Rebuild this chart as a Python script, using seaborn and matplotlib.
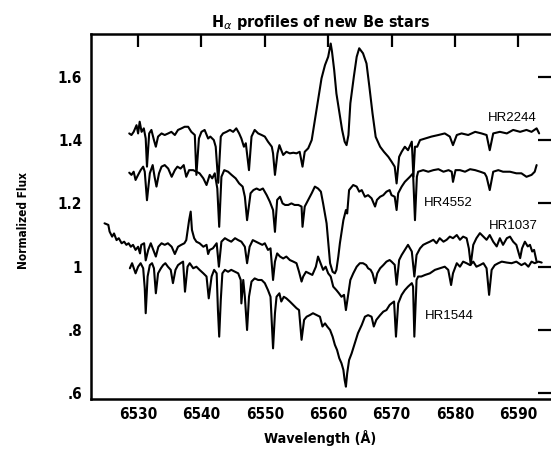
import numpy as np
import pandas as pd
import matplotlib
matplotlib.use("Agg")
import matplotlib.pyplot as plt
import seaborn as sns

# ---------------- data ----------------
hr2244_wl = [6528.6, 6528.95, 6529.3, 6529.75, 6530.0, 6530.25, 6530.55, 6530.9, 6531.2, 6531.4,
             6531.75, 6532.1, 6532.5, 6532.8, 6533.15, 6533.7, 6534.2, 6534.75, 6535.25, 6535.8,
             6536.3, 6536.85, 6537.35, 6537.9, 6538.4, 6538.95, 6539.2, 6539.6, 6540.0, 6540.5,
             6541.05, 6541.4, 6541.95, 6542.25, 6542.65, 6543.05, 6543.4, 6543.95, 6544.5, 6545.0,
             6545.5, 6545.95, 6546.3, 6546.7, 6547.0, 6547.5, 6547.9, 6548.4, 6548.95, 6549.5,
             6550.0, 6550.5, 6551.1, 6551.3, 6551.6, 6552.0, 6552.3, 6552.6, 6552.9, 6553.4,
             6553.95, 6554.5, 6555.0, 6555.5, 6555.95, 6556.3, 6556.85, 6557.4, 6557.9, 6558.4,
             6558.95, 6559.5, 6560.0, 6560.4, 6560.6, 6560.95, 6561.3, 6561.7, 6562.2, 6562.6,
             6562.9, 6563.2, 6563.5, 6564.05, 6564.5, 6564.9, 6565.5, 6566.05, 6566.5, 6567.0,
             6567.5, 6568.2, 6568.8, 6569.5, 6570.0, 6570.5, 6570.8, 6571.2, 6571.6, 6572.1,
             6572.6, 6573.2, 6573.45, 6573.7, 6574.05, 6574.5, 6575.3, 6576.3, 6577.4, 6578.4,
             6579.2, 6579.7, 6580.3, 6581.05, 6582.1, 6583.2, 6584.2, 6585.0, 6585.5, 6586.05,
             6587.1, 6588.2, 6589.2, 6590.3, 6591.3, 6592.1, 6592.9, 6593.3]
hr2244_fx = [1.421, 1.416, 1.426, 1.447, 1.421, 1.458, 1.426, 1.437, 1.405, 1.316,
             1.421, 1.432, 1.400, 1.379, 1.411, 1.421, 1.416, 1.421, 1.426, 1.416,
             1.432, 1.437, 1.442, 1.442, 1.426, 1.416, 1.290, 1.405, 1.426, 1.432,
             1.405, 1.411, 1.400, 1.379, 1.265, 1.411, 1.421, 1.426, 1.432, 1.426,
             1.437, 1.421, 1.405, 1.379, 1.390, 1.305, 1.411, 1.432, 1.421, 1.416,
             1.411, 1.395, 1.379, 1.358, 1.290, 1.358, 1.384, 1.368, 1.353, 1.363,
             1.358, 1.360, 1.358, 1.363, 1.316, 1.363, 1.374, 1.400, 1.463, 1.526,
             1.595, 1.637, 1.663, 1.705, 1.680, 1.621, 1.547, 1.495, 1.432, 1.395,
             1.384, 1.416, 1.516, 1.600, 1.663, 1.690, 1.674, 1.642, 1.569, 1.484,
             1.410, 1.379, 1.363, 1.347, 1.332, 1.316, 1.263, 1.347, 1.363, 1.379,
             1.368, 1.395, 1.284, 1.379, 1.379, 1.400, 1.405, 1.411, 1.416, 1.421,
             1.411, 1.384, 1.416, 1.421, 1.416, 1.426, 1.421, 1.416, 1.368, 1.421,
             1.426, 1.421, 1.432, 1.426, 1.432, 1.426, 1.437, 1.421]

hr4552_wl = [6528.6, 6528.95, 6529.3, 6529.6, 6530.0, 6530.4, 6530.8, 6531.05, 6531.4, 6531.85,
             6532.3, 6532.6, 6532.9, 6533.3, 6533.7, 6534.2, 6534.75, 6535.3, 6535.8, 6536.2,
             6536.7, 6537.2, 6537.6, 6538.05, 6538.7, 6539.2, 6539.7, 6540.3, 6540.8, 6541.3,
             6541.7, 6542.1, 6542.5, 6542.8, 6543.15, 6543.6, 6544.2, 6544.75, 6545.4, 6545.95,
             6546.5, 6546.85, 6547.2, 6547.75, 6548.2, 6548.7, 6549.2, 6549.7, 6550.3, 6550.8,
             6551.3, 6551.6, 6551.95, 6552.4, 6552.8, 6553.2, 6553.7, 6554.2, 6554.7, 6555.3,
             6555.8, 6555.95, 6556.3, 6556.85, 6557.4, 6557.9, 6558.4, 6558.85, 6559.2, 6559.75,
             6560.3, 6560.7, 6561.06, 6561.3, 6561.6, 6561.85, 6562.4, 6562.8, 6563.0, 6563.3,
             6563.95, 6564.5, 6564.9, 6565.3, 6565.8, 6566.3, 6566.85, 6567.4, 6567.7, 6568.2,
             6568.7, 6569.2, 6569.7, 6570.0, 6570.5, 6570.8, 6571.05, 6571.6, 6572.1, 6572.9,
             6573.4, 6573.7, 6574.0, 6574.2, 6575.0, 6575.8, 6576.6, 6577.4, 6578.2, 6579.0,
             6579.5, 6579.7, 6580.1, 6580.8, 6581.6, 6582.4, 6583.2, 6584.0, 6584.7, 6585.0,
             6585.5, 6586.05, 6586.85, 6587.6, 6588.7, 6589.7, 6590.5, 6591.3, 6592.1, 6592.6,
             6592.9]
hr4552_fx = [1.297, 1.290, 1.300, 1.274, 1.290, 1.305, 1.316, 1.300, 1.210, 1.295,
             1.321, 1.284, 1.253, 1.295, 1.316, 1.321, 1.310, 1.284, 1.305, 1.316,
             1.310, 1.321, 1.284, 1.305, 1.305, 1.300, 1.295, 1.279, 1.258, 1.290,
             1.279, 1.295, 1.247, 1.126, 1.284, 1.305, 1.300, 1.290, 1.279, 1.263,
             1.253, 1.221, 1.147, 1.232, 1.242, 1.247, 1.242, 1.247, 1.226, 1.205,
             1.179, 1.110, 1.211, 1.221, 1.200, 1.195, 1.195, 1.200, 1.195, 1.195,
             1.190, 1.126, 1.190, 1.211, 1.232, 1.253, 1.247, 1.237, 1.200, 1.137,
             1.011, 0.984, 0.979, 0.990, 1.032, 1.074, 1.147, 1.179, 1.168, 1.242,
             1.258, 1.253, 1.237, 1.242, 1.221, 1.226, 1.216, 1.190, 1.211, 1.221,
             1.226, 1.237, 1.242, 1.226, 1.221, 1.179, 1.232, 1.253, 1.268, 1.284,
             1.295, 1.147, 1.284, 1.300, 1.305, 1.300, 1.305, 1.308, 1.300, 1.305,
             1.300, 1.268, 1.305, 1.305, 1.300, 1.308, 1.305, 1.300, 1.295, 1.284,
             1.242, 1.300, 1.305, 1.300, 1.300, 1.295, 1.295, 1.284, 1.290, 1.300,
             1.321]

hr1037_wl = [6524.7, 6525.3, 6525.5, 6525.9, 6526.2, 6526.6, 6526.95, 6527.4, 6527.8, 6528.15,
             6528.5, 6528.85, 6529.2, 6529.6, 6530.0, 6530.3, 6530.5, 6530.95, 6531.2, 6531.6,
             6532.0, 6532.4, 6532.8, 6533.2, 6533.7, 6534.2, 6534.7, 6535.3, 6535.8, 6536.3,
             6536.8, 6537.3, 6537.6, 6538.05, 6538.3, 6538.5, 6538.85, 6539.2, 6539.7, 6540.3,
             6540.8, 6541.05, 6541.3, 6541.8, 6542.4, 6542.75, 6543.15, 6543.7, 6544.2, 6544.7,
             6545.3, 6545.8, 6546.3, 6546.85, 6547.2, 6547.6, 6548.1, 6548.6, 6549.1, 6549.6,
             6550.0, 6550.5, 6550.9, 6551.3, 6551.6, 6551.95, 6552.4, 6552.9, 6553.4, 6553.95,
             6554.5, 6555.0, 6555.4, 6555.8, 6556.06, 6556.5, 6557.0, 6557.5, 6558.06, 6558.4,
             6558.8, 6559.2, 6559.6, 6560.0, 6560.4, 6560.8, 6561.3, 6561.7, 6562.1, 6562.5,
             6562.8, 6563.2, 6563.5, 6563.96, 6564.5, 6565.0, 6565.5, 6566.0, 6566.3, 6566.7,
             6567.0, 6567.4, 6567.75, 6568.2, 6568.7, 6569.2, 6569.7, 6570.0, 6570.5, 6570.8,
             6571.2, 6571.6, 6572.1, 6572.6, 6573.2, 6573.6, 6573.95, 6574.5, 6575.0, 6575.5,
             6576.05, 6576.6, 6577.1, 6577.6, 6578.2, 6578.7, 6579.2, 6579.7, 6580.3, 6580.8,
             6581.3, 6581.85, 6582.2, 6582.5, 6582.9, 6583.4, 6583.95, 6584.5, 6585.0, 6585.5,
             6586.05, 6586.6, 6587.1, 6587.6, 6588.2, 6588.7, 6589.2, 6589.7, 6590.3, 6590.6,
             6591.05, 6591.5, 6591.85, 6592.2, 6592.5, 6592.9]
hr1037_fx = [1.137, 1.132, 1.111, 1.095, 1.105, 1.084, 1.090, 1.074, 1.079, 1.069,
             1.074, 1.063, 1.069, 1.053, 1.063, 1.042, 1.069, 1.074, 1.020, 1.053,
             1.074, 1.053, 1.032, 1.063, 1.074, 1.069, 1.074, 1.063, 1.040, 1.063,
             1.069, 1.074, 1.084, 1.147, 1.174, 1.116, 1.090, 1.079, 1.074, 1.063,
             1.069, 1.040, 1.053, 1.058, 1.074, 1.000, 1.079, 1.090, 1.084, 1.079,
             1.090, 1.084, 1.079, 1.063, 1.011, 1.063, 1.084, 1.079, 1.074, 1.069,
             1.074, 1.053, 1.058, 0.958, 1.016, 1.042, 1.032, 1.026, 1.032, 1.021,
             1.016, 1.011, 0.984, 0.953, 0.969, 0.984, 0.979, 0.974, 1.000, 1.032,
             1.011, 0.990, 1.000, 0.979, 0.969, 0.937, 0.926, 0.916, 0.905, 0.911,
             0.863, 0.916, 0.958, 0.979, 1.000, 1.011, 1.011, 1.005, 0.995, 0.990,
             0.979, 0.948, 0.979, 0.995, 1.005, 1.016, 1.021, 1.016, 1.006, 0.943,
             1.021, 1.037, 1.053, 1.069, 1.048, 0.969, 1.037, 1.058, 1.069, 1.074,
             1.079, 1.085, 1.074, 1.090, 1.079, 1.085, 1.095, 1.090, 1.100, 1.085,
             1.095, 1.090, 1.058, 1.006, 1.069, 1.090, 1.106, 1.095, 1.085, 1.100,
             1.079, 1.064, 1.090, 1.069, 1.090, 1.095, 1.079, 1.069, 1.027, 1.058,
             1.079, 1.064, 1.069, 1.048, 1.053, 1.016]

hr1544_wl = [6528.7, 6529.05, 6529.4, 6529.6, 6530.0, 6530.4, 6530.8, 6531.05, 6531.2, 6531.5,
             6531.85, 6532.2, 6532.5, 6532.8, 6533.15, 6533.6, 6533.95, 6534.3, 6534.7, 6535.15,
             6535.5, 6535.9, 6536.3, 6536.7, 6537.1, 6537.4, 6537.8, 6538.15, 6538.7, 6539.2,
             6539.7, 6540.3, 6540.8, 6541.15, 6541.6, 6542.0, 6542.4, 6542.6, 6542.8, 6543.05,
             6543.3, 6543.7, 6544.2, 6544.7, 6545.3, 6545.8, 6546.2, 6546.3, 6546.6, 6546.85,
             6547.2, 6547.5, 6547.9, 6548.4, 6548.95, 6549.5, 6550.0, 6550.5, 6550.9, 6551.3,
             6551.6, 6551.85, 6552.3, 6552.6, 6553.0, 6553.4, 6553.95, 6554.5, 6555.0, 6555.4,
             6555.8, 6556.2, 6556.6, 6557.1, 6557.6, 6558.2, 6558.7, 6559.1, 6559.5, 6559.85,
             6560.3, 6560.7, 6561.06, 6561.4, 6561.75, 6562.1, 6562.4, 6562.6, 6562.8, 6563.0,
             6563.3, 6563.7, 6564.2, 6564.7, 6565.3, 6565.8, 6566.3, 6566.85, 6567.2, 6567.6,
             6568.2, 6568.7, 6569.2, 6569.7, 6570.0, 6570.4, 6570.7, 6571.05, 6571.6, 6572.1,
             6572.6, 6573.2, 6573.4, 6573.6, 6573.95, 6574.2, 6574.7, 6575.3, 6576.05, 6576.85,
             6577.6, 6578.4, 6578.95, 6579.4, 6579.7, 6580.3, 6580.8, 6581.3, 6581.85, 6582.4,
             6582.9, 6583.4, 6583.95, 6584.5, 6585.0, 6585.4, 6585.8, 6586.3, 6586.85, 6587.4,
             6588.2, 6588.95, 6589.7, 6590.5, 6591.05, 6591.6, 6592.1, 6592.6, 6593.2, 6593.7]
hr1544_fx = [0.995, 1.011, 0.990, 0.979, 1.000, 1.011, 0.995, 0.932, 0.853, 0.969,
             1.005, 1.011, 0.995, 0.916, 0.979, 0.995, 1.005, 1.011, 1.000, 0.990,
             0.948, 0.990, 1.005, 1.011, 1.016, 0.921, 1.000, 1.011, 0.995, 1.000,
             0.990, 0.979, 0.969, 0.900, 0.969, 0.990, 0.979, 0.863, 0.779, 0.895,
             0.979, 0.990, 0.984, 0.990, 0.984, 0.979, 0.958, 0.884, 0.958, 0.905,
             0.800, 0.905, 0.953, 0.963, 0.958, 0.958, 0.948, 0.926, 0.905, 0.742,
             0.853, 0.905, 0.916, 0.890, 0.905, 0.900, 0.890, 0.879, 0.869, 0.863,
             0.769, 0.832, 0.842, 0.847, 0.853, 0.847, 0.842, 0.811, 0.821, 0.811,
             0.800, 0.779, 0.753, 0.737, 0.711, 0.695, 0.674, 0.642, 0.621, 0.663,
             0.705, 0.726, 0.758, 0.790, 0.816, 0.842, 0.847, 0.842, 0.811, 0.832,
             0.847, 0.858, 0.863, 0.879, 0.884, 0.890, 0.779, 0.884, 0.911, 0.926,
             0.937, 0.948, 0.937, 0.779, 0.958, 0.969, 0.969, 0.974, 0.979, 0.990,
             0.995, 1.000, 0.990, 0.942, 0.979, 1.011, 1.000, 1.016, 1.011, 1.005,
             1.016, 1.000, 1.005, 1.011, 0.995, 0.911, 0.990, 1.005, 1.011, 1.016,
             1.013, 1.011, 1.016, 1.005, 1.011, 1.000, 1.016, 1.011, 1.016, 1.013]

star_names = ["HR2244", "HR4552", "HR1037", "HR1544"]
label_wl = [6589.0, 6578.9, 6589.3, 6579.1]
label_fx = [1.470, 1.200, 1.128, 0.844]

x_ticks = [6530, 6540, 6550, 6560, 6570, 6580, 6590]
y_ticks = [0.6, 0.8, 1.0, 1.2, 1.4, 1.6]
y_ticklabels = [".6", ".8", "1", "1.2", "1.4", "1.6"]

# ---------------- build table ----------------
frames = []
for name, wl, fx in zip(star_names,
                        [hr2244_wl, hr4552_wl, hr1037_wl, hr1544_wl],
                        [hr2244_fx, hr4552_fx, hr1037_fx, hr1544_fx]):
    frames.append(pd.DataFrame({"star": name, "wl": wl, "flux": fx}))
df = pd.concat(frames, ignore_index=True)

# ---------------- style ----------------
sns.set_style("white")
plt.rcParams["font.family"] = ["DejaVu Sans"]
plt.rcParams["text.color"] = "black"
plt.rcParams["axes.labelcolor"] = "black"
plt.rcParams["xtick.color"] = "black"
plt.rcParams["ytick.color"] = "black"

bold = dict(family="DejaVu Sans", weight="bold", stretch="condensed", color="black")

fig = plt.figure(figsize=(5.51, 4.50), dpi=100)
ax = fig.add_axes([0.1644, 0.1133, 0.8356, 0.8111])

sns.lineplot(data=df, x="wl", y="flux", units="star", estimator=None,
             sort=False, color="black", linewidth=1.5, ax=ax, legend=False)

ax.set_xlim(6522.5, 6595.17)
ax.set_ylim(0.582, 1.735)

ax.set_xticks(x_ticks)
ax.set_xticklabels([str(t) for t in x_ticks])
ax.set_yticks(y_ticks)
ax.set_yticklabels(y_ticklabels)

ax.tick_params(axis="both", which="major", direction="in", length=9.5, width=1.6,
               color="black", labelcolor="black",
               top=True, right=True, labeltop=False, labelright=False)
ax.tick_params(axis="x", pad=6)
ax.tick_params(axis="y", pad=6)
for lab in ax.get_xticklabels() + ax.get_yticklabels():
    lab.set_fontfamily("DejaVu Sans")
    lab.set_fontweight("bold")
    lab.set_fontstretch("condensed")
    lab.set_fontsize(11)
    lab.set_color("black")

for side in ["left", "bottom", "top"]:
    ax.spines[side].set_visible(True)
    ax.spines[side].set_linewidth(1.8)
    ax.spines[side].set_color("black")
ax.spines["right"].set_visible(False)

ax.set_title(r"H$_{\alpha}$ profiles of new Be stars", fontsize=11.5, pad=5, **bold)
ax.set_xlabel("Wavelength (Å)", fontsize=10.3, **bold)
ax.set_ylabel("Normalized Flux", fontsize=8.5, **bold)
ax.xaxis.set_label_coords(0.498, -0.085)
ax.yaxis.set_label_coords(-0.132, 0.49)

for name, lx, ly in zip(star_names, label_wl, label_fx):
    ax.text(lx, ly, name, ha="center", va="center", fontsize=9.5,
            family="Liberation Sans", color="black")

ax.grid(False)
fig.savefig("out.png", dpi=100)
